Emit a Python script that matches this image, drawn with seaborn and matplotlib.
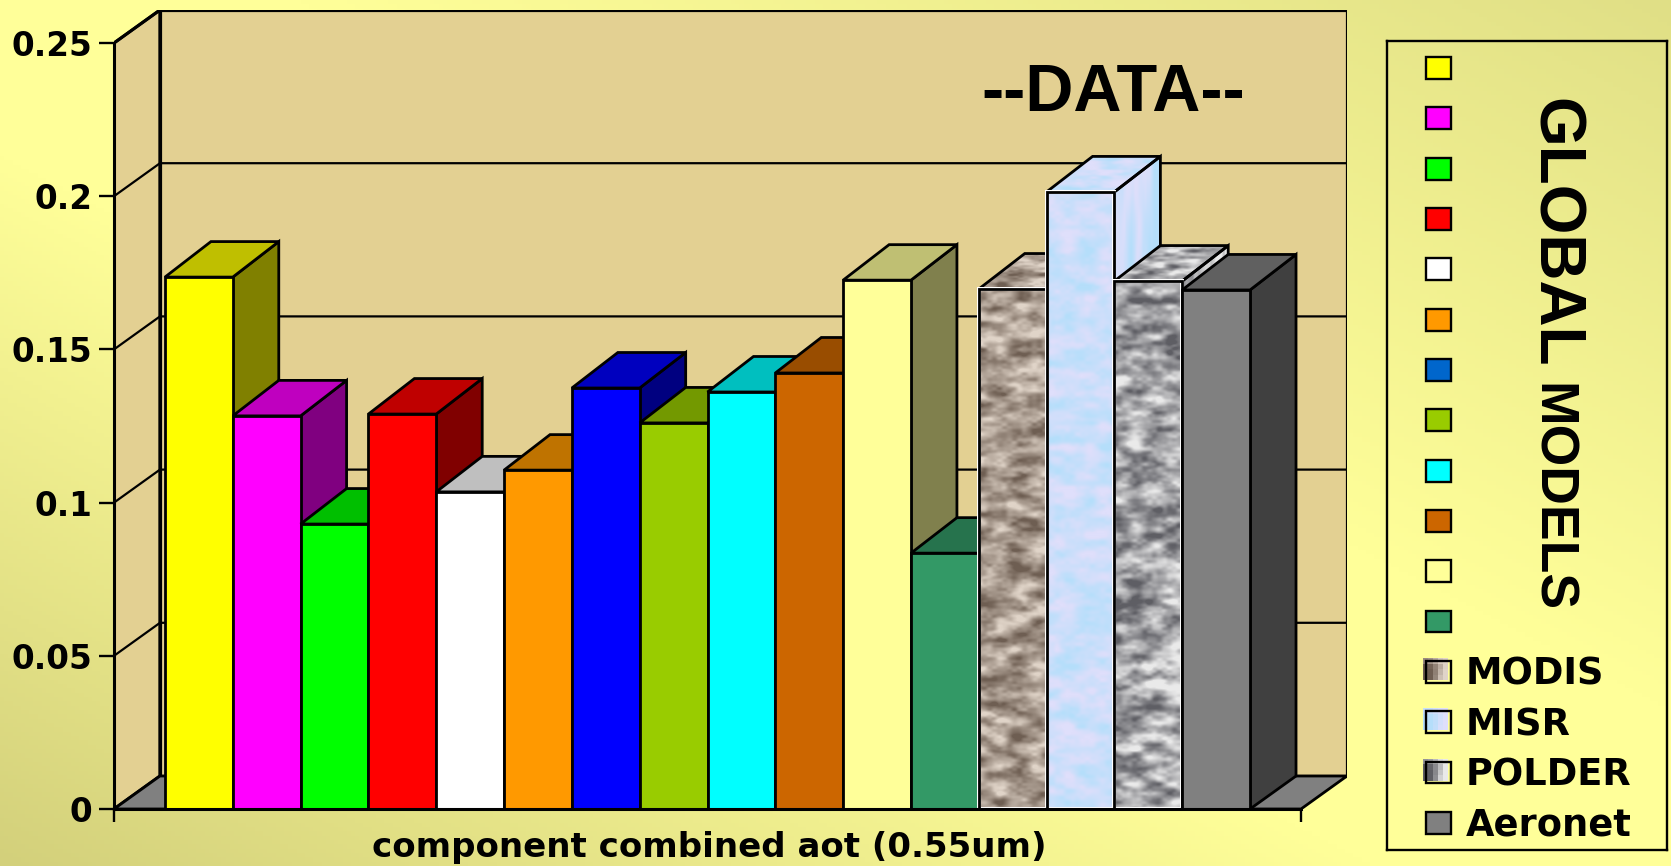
import numpy as np
import pandas as pd
import matplotlib
matplotlib.use("Agg")
import matplotlib.pyplot as plt
import matplotlib.colors as mcolors
from matplotlib.patches import Patch, Polygon, Rectangle
from matplotlib.legend_handler import HandlerBase
import seaborn as sns

W, H = 1671, 866

series = ['m01', 'm02', 'm03', 'm04', 'm05', 'm06', 'm07', 'm08', 'm09', 'm10', 'm11', 'm12',
          'MODIS', 'MISR', 'POLDER', 'Aeronet']
aot = [0.1736, 0.1283, 0.0930, 0.1289, 0.1035, 0.1106, 0.1374, 0.1260, 0.1361, 0.1423, 0.1726,
       0.0835, 0.1697, 0.2014, 0.1723, 0.1694]
bar_colors = ['#FFFF00', '#FF00FF', '#00FF00', '#FF0000', '#FFFFFF', '#FF9900', '#0000FF', '#99CC00',
              '#00FFFF', '#CC6600', '#FFFF99', '#339966', '#B0A498', '#CFE2FB', '#B4B4B8', '#808080']
legend_colors = ['#FFFF00', '#FF00FF', '#00FF00', '#FF0000', '#FFFFFF', '#FF9900', '#0066CC', '#99CC00',
                 '#00FFFF', '#CC6600', '#FFFF99', '#339966', '#B0A498', '#CFE2FB', '#B4B4B8', '#808080']
legend_labels = ['', '', '', '', '', '', '', '', '', '', '', '', 'MODIS', 'MISR', 'POLDER', 'Aeronet']
y_ticks = [0, 0.05, 0.1, 0.15, 0.2, 0.25]
y_tick_labels = ['0', '0.05', '0.1', '0.15', '0.2', '0.25']

# low and high shade of the three photo-like fills
textures = {'MODIS': ('#6E5E52', '#E0D4C8'), 'MISR': ('#B5DEFA', '#DFDFFB'), 'POLDER': ('#5E5E64', '#EAEAEA')}

WALL = '#E3D092'
LW = 2.0

sns.set_theme(style='white')
plt.rcParams['font.family'] = ['Liberation Sans', 'DejaVu Sans']
plt.rcParams['font.weight'] = 'bold'


def cell_noise(h, w, cell_h, cell_w, phase):
    # smooth value noise over a hashed lattice, only used for the look of the fills
    v = np.arange(h) / cell_h
    u = np.arange(w) / cell_w
    i, j = np.meshgrid(np.arange(int(v[-1]) + 2), np.arange(int(u[-1]) + 2), indexing='ij')
    lattice = np.sin(i * 12.9898 + j * 78.233 + phase * 37.719) * 43758.5453
    lattice = lattice - np.floor(lattice)
    vi, ui = v.astype(int), u.astype(int)
    fv, fu = v - vi, u - ui
    fv = (fv * fv * (3 - 2 * fv))[:, None]
    fu = (fu * fu * (3 - 2 * fu))[None, :]
    a = lattice[np.ix_(vi, ui)]
    b = lattice[np.ix_(vi, ui + 1)]
    c = lattice[np.ix_(vi + 1, ui)]
    d = lattice[np.ix_(vi + 1, ui + 1)]
    return (a * (1 - fu) + b * fu) * (1 - fv) + (c * (1 - fu) + d * fu) * fv


def blotches(h, w, phase):
    n = cell_noise(h, w, 9, 20, phase) + 0.6 * cell_noise(h, w, 5, 11, phase + 1.7) + 0.3 * cell_noise(h, w, 3, 5, phase + 3.1)
    n = (n - n.min()) / (n.max() - n.min())
    return np.clip((n - 0.5) * 1.5 + 0.55, 0, 1)


def texture_image(name, h, w, phase):
    cmap = mcolors.LinearSegmentedColormap.from_list(name, textures[name])
    return cmap(blotches(h, w, phase))


fig = plt.figure(figsize=(W / 100, H / 100), dpi=100)

# background gradient, bright along one diagonal and darker at the other two corners
bg = fig.add_axes([0, 0, 1, 1], zorder=0)
yy, xx = np.mgrid[0:1:200j, 0:1:400j]
t = xx + yy - 1
dark = np.clip((np.abs(t) - 0.18) / 0.82, 0, 1)
bright = np.array(mcolors.to_rgb('#FFFF99'))
corner_bl = np.array(mcolors.to_rgb('#D3D07B'))
corner_tr = np.array(mcolors.to_rgb('#E0DF86'))
img = bright + dark[..., None] * np.where(t[..., None] < 0, corner_bl - bright, corner_tr - bright)
bg.imshow(img, origin='lower', aspect='auto', extent=[0, 1, 0, 1])
bg.axis('off')

# axes frame runs from the front-left corner to the back-right corner of the box
ax_l, ax_r, ax_b, ax_t = 114, 1347, 809, 10
ax = fig.add_axes([ax_l / W, 1 - ax_b / H, (ax_r - ax_l) / W, (ax_b - ax_t) / H], zorder=1)
ax.patch.set_alpha(0)

px_x = 67.85
px_y = 3064.0
depth_x = 46 / px_x
depth_y = 33 / px_y
bar_depth_y = 35.5 / px_y
x0 = -0.5 - 51 / px_x
x1 = len(series) - 0.5 + 51 / px_x
ymax = 0.25

df = pd.DataFrame({'series': series, 'aot': aot})
sns.barplot(data=df, x='series', y='aot', hue='series', order=series, hue_order=series, palette=bar_colors,
            width=1, dodge=False, saturation=1, edgecolor='black', linewidth=LW, legend=False, ax=ax)
ax.set_xlabel('')
ax.set_ylabel('')
bars = sorted(ax.patches, key=lambda p: p.get_x())

# walls and floor of the box
ax.add_patch(Polygon([(x0, 0), (x0 + depth_x, depth_y), (x0 + depth_x, ymax + depth_y), (x0, ymax)],
                     fc=WALL, ec='black', lw=LW + 0.3, zorder=1))
ax.add_patch(Rectangle((x0 + depth_x, depth_y), x1 - x0, ymax, fc=WALL, ec='black', lw=LW + 0.3, zorder=1))
ax.add_patch(Polygon([(x0, 0), (x1, 0), (x1 + depth_x, depth_y), (x0 + depth_x, depth_y)],
                     fc='#808080', ec='black', lw=LW, zorder=1))
for v in y_ticks[1:-1]:
    ax.plot([x0, x0 + depth_x, x1 + depth_x], [v, v + depth_y, v + depth_y], color='black', lw=LW - 0.4, zorder=2)
ax.plot([x0, x0 + depth_x], [ymax, ymax + depth_y], color='black', lw=LW, zorder=2)

# depth faces for every bar, later bars sit in front of earlier ones
for i, (p, name) in enumerate(zip(bars, series)):
    left, right, top = p.get_x(), p.get_x() + p.get_width(), p.get_height()
    z = 10 + 4 * i
    rgb = np.array(mcolors.to_rgb(bar_colors[i]))
    back = top + bar_depth_y
    top_pts = [(left, top), (right, top), (right + depth_x, back), (left + depth_x, back)]
    side_pts = [(right, 0), (right + depth_x, depth_y), (right + depth_x, back), (right, top)]
    textured = name in textures
    top_face = Polygon(top_pts, fc='none' if textured else rgb * 0.75, ec='black', lw=LW, zorder=z + 1)
    side_face = Polygon(side_pts, fc='none' if textured else rgb * 0.5, ec='black', lw=LW, zorder=z + 1)
    ax.add_patch(side_face)
    ax.add_patch(top_face)
    p.set_zorder(z + 3)
    if textured:
        front = texture_image(name, 520, 68, i * 0.9)
        im = ax.imshow(front, aspect='auto', extent=[left, right, 0, top], zorder=z + 2, interpolation='bilinear')
        im.set_clip_path(Rectangle((left, 0), right - left, top, transform=ax.transData))
        p.set_facecolor('none')
        # thin pale halo left around the pasted-in photo fills
        ax.add_patch(Rectangle((left, 0), right - left, top, fc='none', ec='white', lw=LW + 0.9, zorder=z + 2.5))
        for face, pts, phase in ((top_face, top_pts, 2.1), (side_face, side_pts, 4.3)):
            xs, ys = zip(*pts)
            tex = texture_image(name, 60, 110, i * 0.9 + phase)
            im = ax.imshow(tex, aspect='auto', extent=[min(xs), max(xs), min(ys), max(ys)], zorder=z,
                           interpolation='bilinear')
            im.set_clip_path(face)

ax.set_xlim(x0, x1 + depth_x)
ax.set_ylim(0, ymax + depth_y)

ax.set_yticks(y_ticks)
ax.set_yticklabels(y_tick_labels, family='DejaVu Sans', fontweight='bold', fontsize=23.5, color='black')
ax.set_xticks([x0, x1])
ax.set_xticklabels(['', ''])
ax.tick_params(axis='y', direction='out', length=10.8, width=LW - 0.3, color='black', pad=5, left=True)
ax.tick_params(axis='x', direction='out', length=9.4, width=LW - 0.3, color='black', bottom=True)
sns.despine(ax=ax, top=True, right=True)
for side in ('left', 'bottom'):
    ax.spines[side].set_color('black')
    ax.spines[side].set_linewidth(LW + 0.2)
    ax.spines[side].set_zorder(200)
ax.spines['left'].set_bounds(0, ymax)
ax.spines['bottom'].set_bounds(x0, x1)

fig.text(709 / W, 1 - 857 / H, 'component combined aot (0.55um)', ha='center', va='baseline',
         family='DejaVu Sans', fontweight='bold', fontsize=24.5, color='black', zorder=5)
fig.text(1113 / W, 1 - 94 / H, '--DATA--', ha='center', va='center', fontsize=48, fontweight='bold',
         color='black', zorder=5)


class SwatchHandler(HandlerBase):
    # swatch with a small pixelated square peeking out behind it for the photo-filled series
    def create_artists(self, legend, orig, xd, yd, width, height, fontsize, trans):
        name = orig.get_label()
        artists = []
        if name in textures:
            cells = texture_image(name, 4, 5, 1.0)
            cw, ch = width / 5, height / 4
            for r in range(4):
                for c in range(5):
                    artists.append(Rectangle((-xd - 2 + c * cw, -yd + 2 + r * ch), cw, ch, fc=cells[r, c],
                                             ec='none', transform=trans))
        artists.append(Rectangle((-xd, -yd), width, height, fc=orig.get_facecolor() if name not in textures else 'none',
                                 ec='black', lw=LW - 0.3, transform=trans))
        return artists


lax = fig.add_axes([1387 / W, 1 - 850 / H, 280 / W, 809 / H], zorder=3)
lax.patch.set_alpha(0)
lax.set_xticks([])
lax.set_yticks([])
for s in lax.spines.values():
    s.set_visible(True)
    s.set_color('black')
    s.set_linewidth(LW - 0.3)

names = [lab if lab else s for lab, s in zip(legend_labels, series)]
handles = [Patch(facecolor=c, label=n) for c, n in zip(legend_colors, names)]
leg = lax.legend(handles=handles, labels=legend_labels, loc='upper left', bbox_to_anchor=(39 / 280, 1 - 11 / 809),
                 frameon=False, borderaxespad=0, borderpad=0,
                 prop={'family': 'DejaVu Sans', 'weight': 'bold', 'size': 26.5}, labelspacing=0.362,
                 handlelength=0.68, handleheight=0.54, handletextpad=0.41,
                 handler_map={Patch: SwatchHandler()})
for txt in leg.get_texts():
    txt.set_color('black')

fig.text(1537 / W, 1 - 98 / H, 'GLOBAL', rotation=-90, rotation_mode='anchor', ha='left', va='baseline',
         fontsize=46, fontweight='bold', color='black', zorder=5)
fig.text(1537 / W, 1 - 383 / H, 'MODELS', rotation=-90, rotation_mode='anchor', ha='left', va='baseline',
         fontsize=38.5, fontweight='bold', color='black', zorder=5)

fig.savefig('out.png', dpi=100)
